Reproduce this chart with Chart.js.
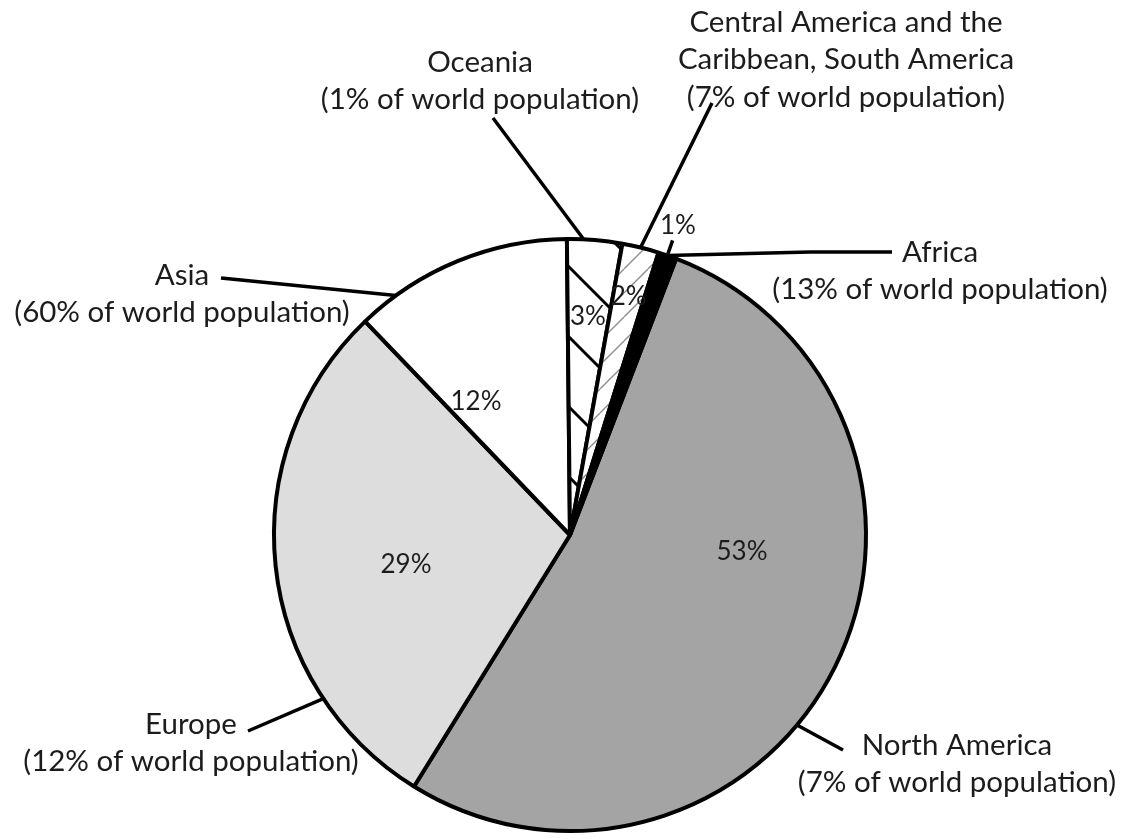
<!DOCTYPE html>
<html><head><meta charset="utf-8">
<script src="https://cdn.jsdelivr.net/npm/chart.js@4"></script>
<style>html,body{margin:0;padding:0;background:#fff}#wrap{width:1128px;height:839px;position:relative}canvas{display:block}</style>
</head><body><div id="wrap"><canvas id="c" width="1128" height="839"></canvas></div>
<script>
// ---- data ----
const regions = ['North America', 'Europe', 'Asia', 'Oceania', 'Central America and the Caribbean, South America', 'Africa'];
const regionNameLines = [['North America'], ['Europe'], ['Asia'], ['Oceania'], ['Central America and the', 'Caribbean, South America'], ['Africa']];
const shareOfWealth = [53, 29, 12, 3, 2, 1];          // slice values (labelled %)
const shareOfPopulation = [7, 12, 60, 1, 7, 13];      // % of world population in the labels

// ---- layout / style ----
const FONT = 'Lato, "Open Sans", sans-serif';
const TEXT = '#1c1c1c';
const labelCenters = [[957, 745], [191, 724], [182, 275], [480, 62], [846, 22], [940, 252]];
const leaderStarts = [[[843, 750]], [[248, 731]], [[221, 278]], [[493, 118]], [[712, 103]], [[892, 252], [810, 252]]];
const leaderT = [0.571, 0.236, 0.18, 0.3, 0.5, 0.5];
const pctPos = [[742, 552], [406, 565], [476, 402], [588, 317], null, null];

const canvas = document.getElementById('c');
const ctx = canvas.getContext('2d');

function hatch(size, dir, color, width, off) {
  const c = document.createElement('canvas'); c.width = c.height = size;
  const g = c.getContext('2d');
  g.fillStyle = '#fff'; g.fillRect(0, 0, size, size);
  g.strokeStyle = color; g.lineWidth = width;
  for (const k of [-1, 0, 1]) {
    g.beginPath();
    if (dir === 'back') { g.moveTo(k * size, 0); g.lineTo(k * size + size, size); }
    else { g.moveTo(k * size, size); g.lineTo(k * size + size, 0); }
    g.stroke();
  }
  const p = ctx.createPattern(c, 'repeat');
  if (off && p.setTransform) p.setTransform(new DOMMatrix().translate(off[0], off[1]));
  return p;
}
const fills = ['#a4a4a4', '#dddddd', '#ffffff', hatch(70, 'back', '#000', 3, [0, 48]), hatch(24, 'fwd', '#8a8a8a', 1.3, [0, 5]), '#000000'];

function arcPoint(el, t, rOff) {
  const a = el.startAngle + (el.endAngle - el.startAngle) * t;
  const r = el.outerRadius + (rOff || 0);
  return [el.x + Math.cos(a) * r, el.y + Math.sin(a) * r, a];
}

const annot = {
  id: 'annot',
  afterDatasetsDraw(chart) {
    const c = chart.ctx;
    const meta = chart.getDatasetMeta(0);
    c.save();
    c.strokeStyle = '#000'; c.lineWidth = 3.5; c.lineCap = 'butt'; c.lineJoin = 'miter';
    // leader lines
    meta.data.forEach((el, i) => {
      const pts = leaderStarts[i];
      const end = arcPoint(el, leaderT[i], 0);
      c.beginPath();
      c.moveTo(pts[0][0], pts[0][1]);
      for (let k = 1; k < pts.length; k++) c.lineTo(pts[k][0], pts[k][1]);
      c.lineTo(end[0], end[1]);
      c.stroke();
    });
    // region labels
    c.fillStyle = TEXT; c.textAlign = 'center'; c.textBaseline = 'middle';
    c.font = '29.5px ' + FONT;
    const lh = 37.5;
    regions.forEach((r, i) => {
      const [x, y] = labelCenters[i];
      const lines = regionNameLines[i].concat(['(' + shareOfPopulation[i] + '% of world population)']);
      lines.forEach((ln, k) => c.fillText(ln, x, y + k * lh));
    });
    // percentage labels
    c.font = '26px ' + FONT;
    meta.data.forEach((el, i) => {
      const txt = shareOfWealth[i] + '%';
      let p = pctPos[i];
      if (!p) {
        if (i === 5) {
          const a = arcPoint(el, 0.5, 2), b = arcPoint(el, 0.5, 16);
          c.beginPath(); c.moveTo(a[0], a[1]); c.lineTo(b[0], b[1]); c.stroke();
          p = arcPoint(el, 0.5, 32);
        } else {
          p = arcPoint(el, 0.5, -el.outerRadius * 0.17);
        }
      }
      c.fillText(txt, p[0], p[1]);
    });
    c.restore();
  }
};

new Chart(ctx, {
  type: 'pie',
  data: {
    labels: regions,
    datasets: [{ data: shareOfWealth, backgroundColor: fills, borderColor: '#000', borderWidth: 4 }]
  },
  options: {
    responsive: false,
    animation: false,
    rotation: 21,
    layout: { padding: { left: 272, top: 237, right: 260, bottom: 6 } },
    plugins: { legend: { display: false }, tooltip: { enabled: false } }
  },
  plugins: [annot]
});
</script></body></html>
